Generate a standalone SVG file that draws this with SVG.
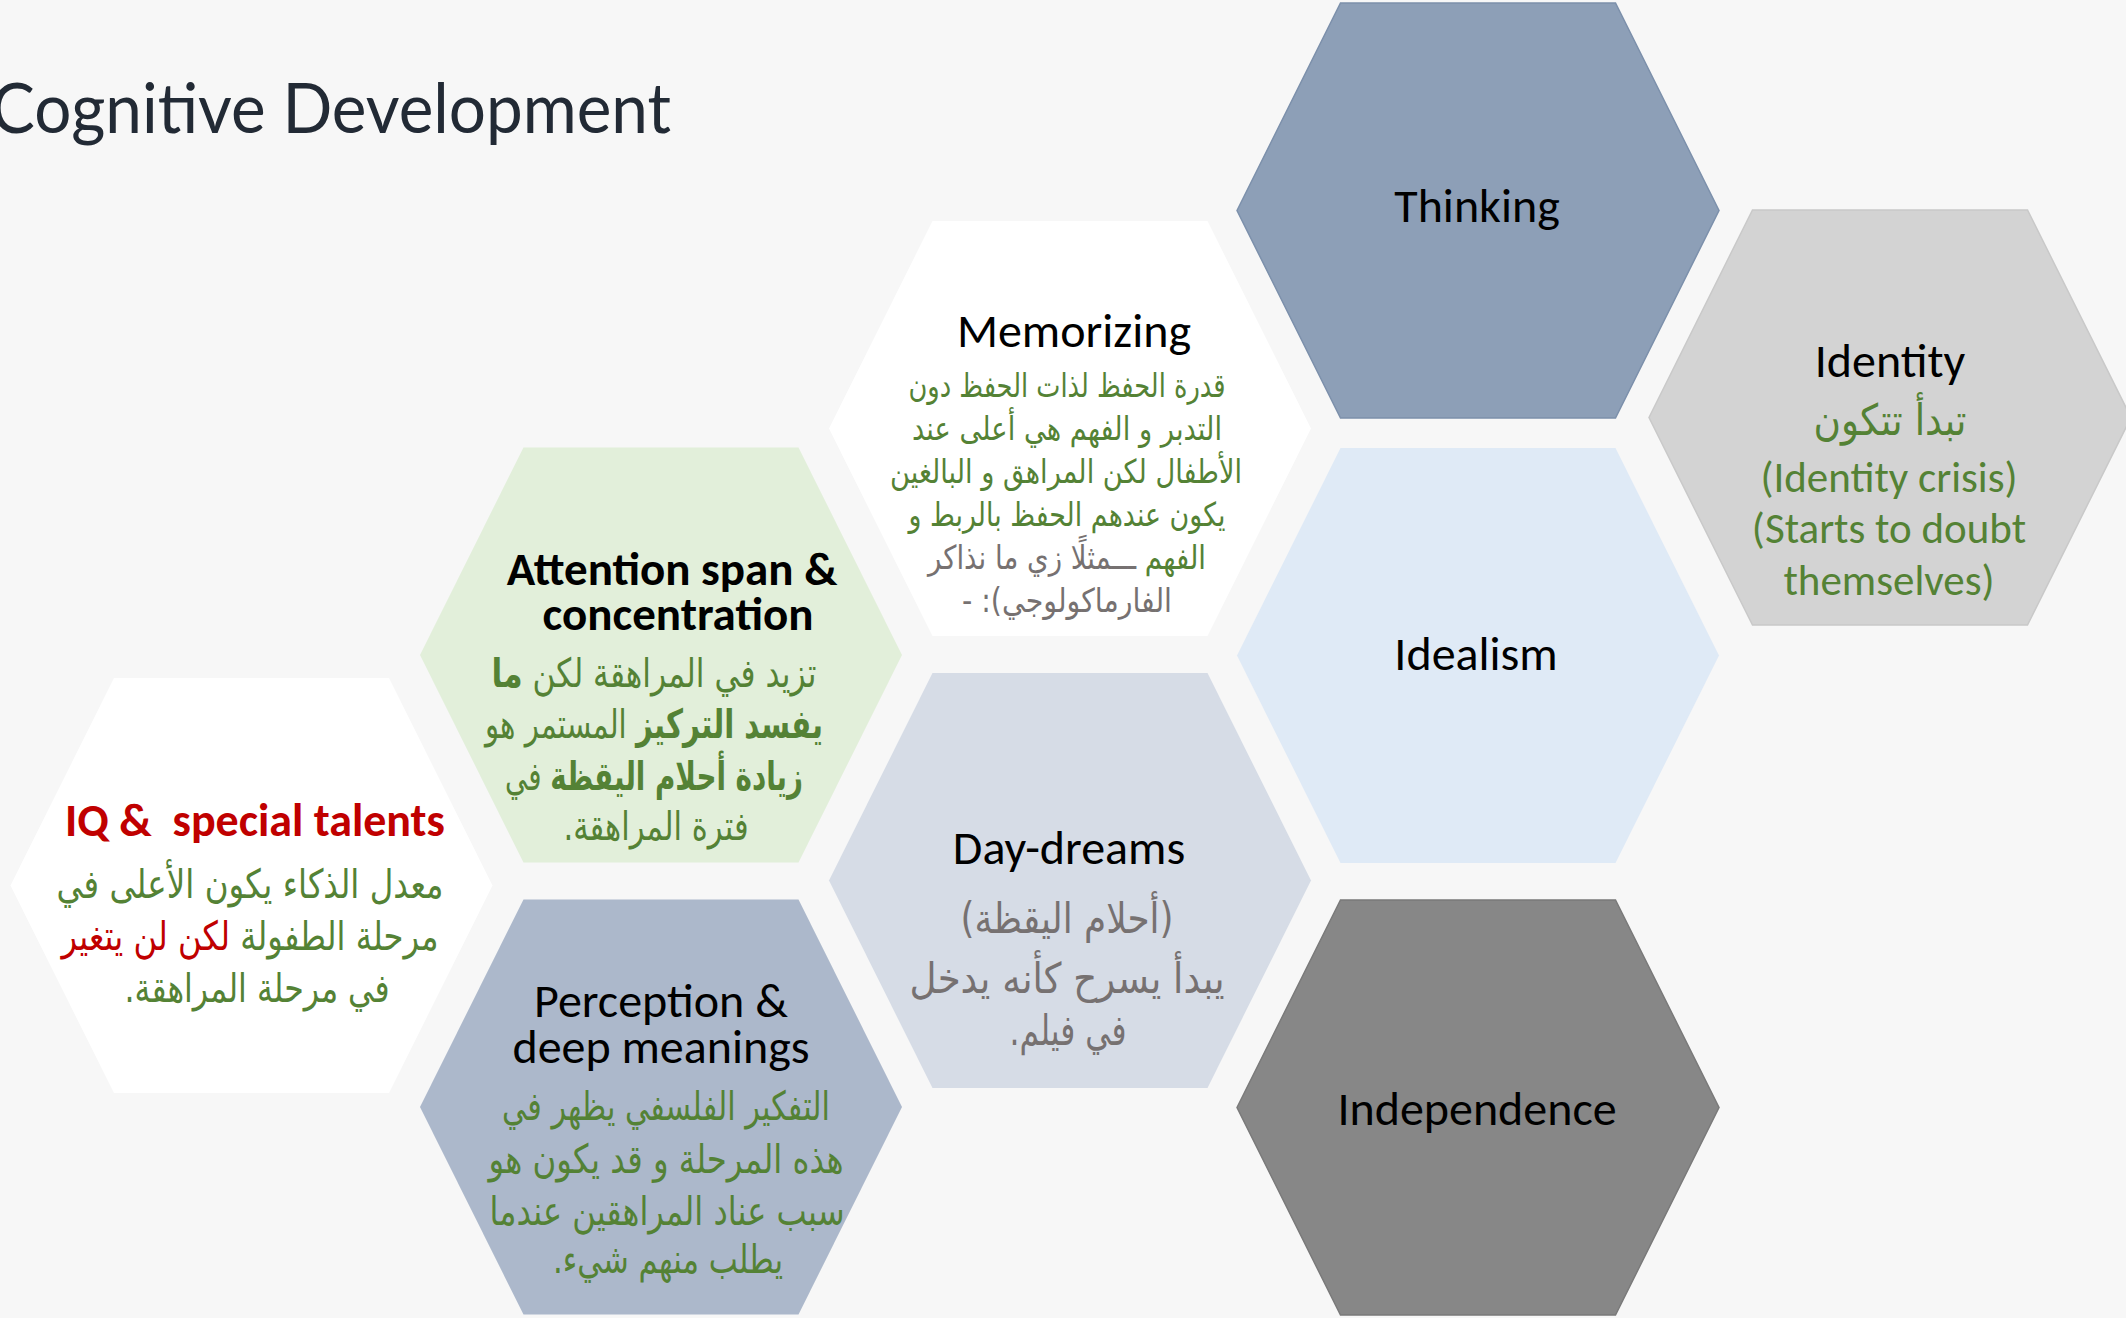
<svg xmlns="http://www.w3.org/2000/svg" width="2126" height="1318" viewBox="0 0 2126 1318">
  <style>
    .en { font-family: Carlito, Lato, "Open Sans", sans-serif; fill: #000; text-anchor: middle; white-space: pre; }
    .t47 { font-size: 48px; }
    .b { font-weight: 700; }
    .ar { font-family: "DejaVu Sans", sans-serif; text-anchor: middle; direction: rtl; unicode-bidi: embed; }
    .green { fill: #548235; }
    .red { fill: #c00000; }
    .grey { fill: #767171; }
    .title { font-family: Lato, "Open Sans", sans-serif; font-weight: 400; font-size: 70px; fill: #222a35; }
  </style>
  <defs>
    <!-- one hexagon, centred on the origin -->
    <polygon id="hex" points="-241,0 -137.5,-207.5 137.5,-207.5 241,0 137.5,207.5 -137.5,207.5"/>
  </defs>

  <rect width="2126" height="1318" fill="#f7f7f7"/>

  <text class="title" x="-9" y="133" textLength="680" lengthAdjust="spacingAndGlyphs">Cognitive Development</text>

  <g id="connectors"/>

  <g id="thinking">
    <use href="#hex" x="1478" y="210.5" fill="#8d9fb7" stroke="#7c90ab" stroke-width="1.5"/>
    <text class="en t47" x="1477" y="222">Thinking</text>
  </g>

  <g id="identity">
    <use href="#hex" x="1890" y="417.5" fill="#d3d3d3" stroke="#c9c9c9" stroke-width="1.5"/>
    <text class="en t47" x="1890" y="377">Identity</text>
    <text class="ar green" x="1890" y="435" font-size="43" textLength="153" lengthAdjust="spacingAndGlyphs">تبدأ تتكون</text>
    <text class="en green" x="1889" y="492" font-size="43">(Identity crisis)</text>
    <text class="en green" x="1889" y="543" font-size="43">(Starts to doubt</text>
    <text class="en green" x="1889" y="595" font-size="43">themselves)</text>
  </g>

  <g id="memorizing">
    <use href="#hex" x="1070" y="428.5" fill="#ffffff"/>
    <text class="en t47" x="1074" y="347">Memorizing</text>
    <text class="ar green" x="1067" y="397" font-size="33" textLength="317" lengthAdjust="spacingAndGlyphs">قدرة الحفظ لذات الحفظ دون</text>
    <text class="ar green" x="1067" y="440" font-size="33" textLength="310" lengthAdjust="spacingAndGlyphs">التدبر و الفهم هي أعلى عند</text>
    <text class="ar green" x="1066" y="483" font-size="33" textLength="352" lengthAdjust="spacingAndGlyphs">الأطفال لكن المراهق و البالغين</text>
    <text class="ar green" x="1067" y="526" font-size="33" textLength="317" lengthAdjust="spacingAndGlyphs">يكون عندهم الحفظ بالربط و</text>
    <text class="ar grey" x="1067" y="569" font-size="33" textLength="278" lengthAdjust="spacingAndGlyphs"><tspan class="green">الفهم</tspan> ـــمثلًا زي ما نذاكر</text>
    <text class="ar grey" x="1067" y="612" font-size="33" textLength="210" lengthAdjust="spacingAndGlyphs">الفارماكولوجي): -</text>
  </g>

  <g id="idealism">
    <use href="#hex" x="1478" y="655.5" fill="#dfeaf6"/>
    <text class="en t47" x="1476" y="670">Idealism</text>
  </g>

  <g id="attention">
    <use href="#hex" x="661" y="655" fill="#e2efda"/>
    <text class="en b" x="672" y="585" font-size="47">Attention span &amp;</text>
    <text class="en b" x="678" y="630" font-size="47">concentration</text>
    <text class="ar green" x="654" y="687" font-size="40" textLength="325" lengthAdjust="spacingAndGlyphs">تزيد في المراهقة لكن <tspan class="b">ما</tspan></text>
    <text class="ar green" x="654" y="738" font-size="40" textLength="338" lengthAdjust="spacingAndGlyphs"><tspan class="b">يفسد التركيز</tspan> المستمر هو</text>
    <text class="ar green" x="654" y="790" font-size="40" textLength="298" lengthAdjust="spacingAndGlyphs"><tspan class="b">زيادة أحلام اليقظة</tspan> في</text>
    <text class="ar green" x="656" y="840" font-size="40" textLength="185" lengthAdjust="spacingAndGlyphs">فترة المراهقة.</text>
  </g>

  <g id="iq">
    <use href="#hex" x="251.5" y="885.5" fill="#ffffff"/>
    <text class="en b red" x="255" y="836" font-size="46">IQ &amp;  special talents</text>
    <text class="ar green" x="250" y="898" font-size="40" textLength="387" lengthAdjust="spacingAndGlyphs">معدل الذكاء يكون الأعلى في</text>
    <text class="ar green" x="250" y="950" font-size="40" textLength="377" lengthAdjust="spacingAndGlyphs">مرحلة الطفولة <tspan class="red">لكن لن يتغير</tspan></text>
    <text class="ar green" x="257" y="1002" font-size="40" textLength="265" lengthAdjust="spacingAndGlyphs">في مرحلة المراهقة.</text>
  </g>

  <g id="day-dreams">
    <use href="#hex" x="1070" y="880.5" fill="#d6dce6"/>
    <text class="en t47" x="1069" y="864">Day-dreams</text>
    <text class="ar grey" x="1067" y="933" font-size="42" textLength="213" lengthAdjust="spacingAndGlyphs">(أحلام اليقظة)</text>
    <text class="ar grey" x="1067" y="993" font-size="42" textLength="315" lengthAdjust="spacingAndGlyphs">يبدأ يسرح كأنه يدخل</text>
    <text class="ar grey" x="1068" y="1045" font-size="42" textLength="117" lengthAdjust="spacingAndGlyphs">في فيلم.</text>
  </g>

  <g id="perception">
    <use href="#hex" x="661" y="1107" fill="#acb8cb"/>
    <text class="en t47" x="661" y="1017">Perception &amp;</text>
    <text class="en t47" x="661" y="1063">deep meanings</text>
    <text class="ar green" x="666" y="1120" font-size="40" textLength="328" lengthAdjust="spacingAndGlyphs">التفكير الفلسفي يظهر في</text>
    <text class="ar green" x="666" y="1173" font-size="40" textLength="355" lengthAdjust="spacingAndGlyphs">هذه المرحلة و قد يكون هو</text>
    <text class="ar green" x="667" y="1225" font-size="40" textLength="355" lengthAdjust="spacingAndGlyphs">سبب عناد المراهقين عندما</text>
    <text class="ar green" x="668" y="1273" font-size="40" textLength="230" lengthAdjust="spacingAndGlyphs">يطلب منهم شيء.</text>
  </g>

  <g id="independence">
    <use href="#hex" x="1478" y="1107.5" fill="#878787" stroke="#7a7a7a" stroke-width="1.5"/>
    <text class="en t47" x="1477" y="1125">Independence</text>
  </g>
</svg>
